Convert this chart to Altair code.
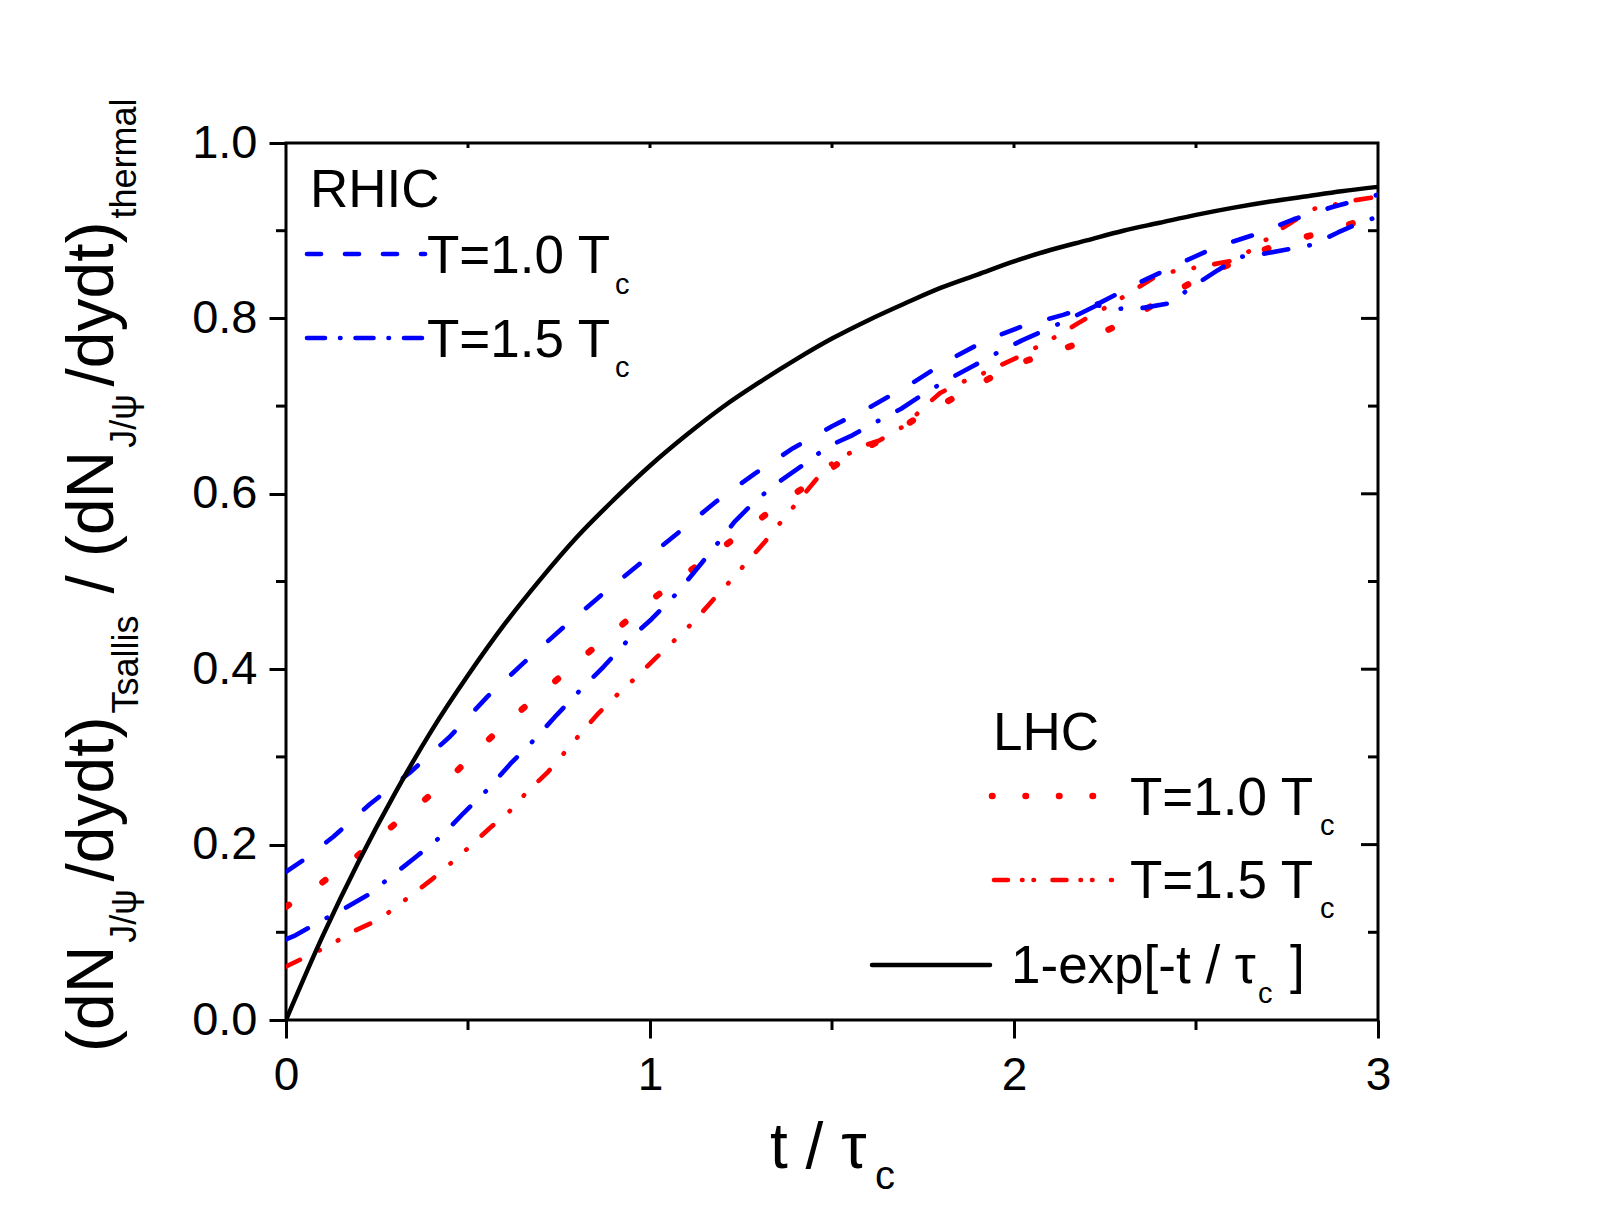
import altair as alt
import pandas as pd

# ---------------- data ----------------
t_exp = [0.0, 0.1, 0.2, 0.3, 0.4, 0.5, 0.6, 0.7, 0.8, 0.9, 1.0, 1.1, 1.2, 1.3, 1.4, 1.5,
         1.6, 1.7, 1.8, 1.9, 2.0, 2.1, 2.2, 2.3, 2.4, 2.5, 2.6, 2.7, 2.8, 2.9, 3.0]
v_exp = [0.0, 0.095, 0.181, 0.259, 0.330, 0.393, 0.451, 0.503, 0.551, 0.593, 0.632, 0.667,
         0.699, 0.727, 0.753, 0.777, 0.798, 0.817, 0.835, 0.850, 0.865, 0.878, 0.889, 0.900,
         0.909, 0.918, 0.926, 0.933, 0.939, 0.945, 0.950]

t_rhic10 = [0.0, 0.05, 0.13, 0.23, 0.34, 0.45, 0.554, 0.655, 0.76, 0.865, 0.971, 1.076, 1.181,
            1.288, 1.393, 1.50, 1.605, 1.712, 1.818, 1.923, 2.029, 2.135, 2.237, 2.345, 2.452,
            2.559, 2.665, 2.768, 2.875, 3.0]
v_rhic10 = [0.169, 0.183, 0.209, 0.246, 0.282, 0.323, 0.369, 0.408, 0.447, 0.484, 0.520, 0.555,
            0.591, 0.623, 0.652, 0.677, 0.699, 0.724, 0.752, 0.775, 0.792, 0.804, 0.818, 0.841,
            0.862, 0.882, 0.896, 0.913, 0.927, 0.941]

t_rhic15 = [0.0, 0.026, 0.094, 0.160, 0.227, 0.296, 0.36, 0.428, 0.488, 0.557, 0.616, 0.682,
            0.744, 0.808, 0.873, 0.937, 1.004, 1.07, 1.124, 1.179, 1.232, 1.292, 1.356, 1.424,
            1.489, 1.557, 1.622, 1.69, 1.756, 1.822, 1.889, 1.955, 2.022, 2.088, 2.155, 2.228,
            2.287, 2.355, 2.425, 2.49, 2.56, 2.62, 2.69, 2.757, 2.82, 2.89, 2.95, 3.0]
v_rhic15 = [0.092, 0.0965, 0.1125, 0.127, 0.143, 0.166, 0.187, 0.21, 0.236, 0.264, 0.292, 0.3195,
            0.348, 0.376, 0.403, 0.432, 0.457, 0.485, 0.512, 0.540, 0.568, 0.593, 0.614, 0.634,
            0.654, 0.667, 0.682, 0.697, 0.715, 0.731, 0.746, 0.761, 0.775, 0.787, 0.800, 0.815,
            0.811, 0.812, 0.817, 0.836, 0.855, 0.870, 0.874, 0.879, 0.884, 0.898, 0.909, 0.916]

t_lhc10 = [0.0, 0.1, 0.19, 0.28, 0.37, 0.46, 0.552, 0.642, 0.733, 0.822, 0.914, 1.004, 1.094,
           1.184, 1.276, 1.364, 1.459, 1.541, 1.64, 1.724, 1.82, 1.912, 2.0, 2.095, 2.182, 2.274,
           2.365, 2.457, 2.544, 2.64, 2.722, 2.819, 2.91, 3.0]
v_lhc10 = [0.129, 0.157, 0.185, 0.217, 0.247, 0.28, 0.318, 0.352, 0.384, 0.416, 0.4475, 0.479,
           0.5075, 0.534, 0.563, 0.591, 0.617, 0.642, 0.662, 0.684, 0.706, 0.727, 0.747, 0.76,
           0.772, 0.79, 0.811, 0.834, 0.853, 0.870, 0.884, 0.895, 0.906, 0.917]

t_lhc15 = [0.0, 0.08, 0.12, 0.18, 0.237, 0.28, 0.34, 0.40, 0.44, 0.50, 0.56, 0.61, 0.66, 0.72,
           0.755, 0.806, 0.859, 0.9, 0.96, 1.019, 1.06, 1.12, 1.173, 1.213, 1.266, 1.317, 1.35,
           1.40, 1.456, 1.482, 1.537, 1.596, 1.631, 1.701, 1.756, 1.797, 1.859, 1.919, 1.96,
           2.022, 2.079, 2.123, 2.182, 2.242, 2.283, 2.344, 2.402, 2.5, 2.603, 2.668, 2.722,
           2.764, 2.825, 2.883, 2.925, 2.98, 3.0]
v_lhc15 = [0.061, 0.077, 0.085, 0.10, 0.111, 0.122, 0.141, 0.16, 0.174, 0.196, 0.219, 0.236,
           0.259, 0.283, 0.30, 0.325, 0.35, 0.367, 0.39, 0.414, 0.43, 0.454, 0.479, 0.497, 0.522,
           0.546, 0.563, 0.588, 0.616, 0.63, 0.644, 0.656, 0.661, 0.678, 0.70, 0.715, 0.7275,
           0.738, 0.746, 0.758, 0.771, 0.781, 0.796, 0.81, 0.82, 0.836, 0.851, 0.858, 0.866,
           0.882, 0.899, 0.910, 0.925, 0.930, 0.934, 0.9375, 0.94]

x_major = [0, 1, 2, 3]
x_minor = [0.5, 1.5, 2.5]
y_major = [0.0, 0.2, 0.4, 0.6, 0.8, 1.0]
y_minor = [0.1, 0.3, 0.5, 0.7, 0.9]

# ---------------- layout ----------------
W, H = 1092, 877
FONT = "Liberation Sans"
BLUE, RED = "#0000FF", "#FF0000"

x_scale = alt.Scale(domain=[0, 3], nice=False, zero=False)
y_scale = alt.Scale(domain=[0, 1], nice=False, zero=False)
x_axis = alt.Axis(values=x_major, format="d", title=None, grid=False, domain=False,
                  tickSize=18, tickWidth=3, tickColor="black", labelFont=FONT,
                  labelFontSize=46, labelColor="black", labelPadding=15,
                  labelFlush=False, labelOverlap=False, labelBound=False)
y_axis = alt.Axis(values=y_major, format=".1f", title=None, grid=False, domain=False,
                  tickSize=17, tickWidth=3, tickColor="black", labelFont=FONT,
                  labelFontSize=47, labelColor="black", labelPadding=12,
                  labelFlush=False, labelOverlap=False, labelBound=False)


def X():
    return alt.X("t:Q", scale=x_scale, axis=x_axis)


def Y():
    return alt.Y("v:Q", scale=y_scale, axis=y_axis)


def curve(t, v, color, dash, width, interp="linear"):
    df = pd.DataFrame({"t": t, "v": v})
    kw = dict(color=color, strokeWidth=width, strokeCap="round", strokeJoin="round",
              clip=True, interpolate=interp)
    if dash:
        kw["strokeDash"] = dash
    return alt.Chart(df).mark_line(**kw).encode(x=X(), y=Y())


dummy = pd.DataFrame({"a": [0]})


def text(s, x, y, size, angle=0):
    return alt.Chart(dummy).mark_text(
        text=s, font=FONT, fontSize=size, align="left", baseline="alphabetic",
        angle=angle, color="black"
    ).encode(x=alt.value(x), y=alt.value(y))


def sample(x1, x2, y, color, dash, width):
    kw = dict(color=color, strokeWidth=width, strokeCap="round")
    if dash:
        kw["strokeDash"] = dash
    return alt.Chart(dummy).mark_rule(**kw).encode(
        x=alt.value(x1), x2=alt.value(x2), y=alt.value(y))


layers = []

# minor / mirrored ticks
layers.append(alt.Chart(pd.DataFrame({"t": x_minor})).mark_rule(color="black", strokeWidth=3)
              .encode(x=X(), y=alt.value(H), y2=alt.value(H + 10)))
layers.append(alt.Chart(pd.DataFrame({"t": x_minor + x_major[1:3]})).mark_rule(color="black", strokeWidth=3)
              .encode(x=X(), y=alt.value(0), y2=alt.value(5)))
layers.append(alt.Chart(pd.DataFrame({"v": y_minor})).mark_rule(color="black", strokeWidth=3)
              .encode(y=Y(), x=alt.value(-10), x2=alt.value(0)))
layers.append(alt.Chart(pd.DataFrame({"v": y_major[1:5]})).mark_rule(color="black", strokeWidth=3)
              .encode(y=Y(), x=alt.value(W - 17), x2=alt.value(W)))
layers.append(alt.Chart(pd.DataFrame({"v": y_minor})).mark_rule(color="black", strokeWidth=3)
              .encode(y=Y(), x=alt.value(W - 10), x2=alt.value(W)))

# curves
layers.append(curve(t_lhc15, v_lhc15, RED, [15.5, 21.5, 0.5, 20.5, 0.5, 20.5], 4.6))
layers.append(curve(t_lhc10, v_lhc10, RED, [3.5, 40.5], 6.5))
layers.append(curve(t_rhic15, v_rhic15, BLUE, [24.5, 21.5, 0.5, 21.5], 4.6))
layers.append(curve(t_rhic10, v_rhic10, BLUE, [19.5, 30.5], 4.6))
layers.append(curve(t_exp, v_exp, "black", None, 4.5, "monotone"))

# legends (positions relative to the plot area)
layers.append(text("RHIC", 24, 64, 53))
layers.append(sample(21, 139, 111, BLUE, [14, 24], 4.6))
layers.append(text("T=1.0 T", 141, 130, 53))
layers.append(text("c", 329, 151, 29))
layers.append(sample(21, 139, 195, BLUE, [18, 15, 0.5, 15], 4.6))
layers.append(text("T=1.5 T", 141, 214, 53))
layers.append(text("c", 329, 234, 29))

layers.append(text("LHC", 707, 607, 53))
layers.append(sample(706, 812, 653, RED, [0.5, 33], 6.5))
layers.append(text("T=1.0 T", 844, 672, 53))
layers.append(text("c", 1034, 692, 29))
layers.append(sample(708, 826, 737, RED, [14, 14, 0.5, 11, 0.5, 18.5], 4.6))
layers.append(text("T=1.5 T", 844, 755, 53))
layers.append(text("c", 1034, 775, 29))
layers.append(sample(586, 704, 822, "black", None, 4.5))
layers.append(text("1-exp[-t / τ", 725, 840, 53))
layers.append(text("c", 972, 860, 29))
layers.append(text("]", 1004, 840, 53))

# x-axis title
layers.append(text("t / τ", 484, 1025, 64))
layers.append(text("c", 589, 1046, 40))

# y-axis title, rotated, built piece by piece (main text + subscripts)
ADV = {'(': 333, ')': 333, 'd': 556, 'N': 722, '/': 278, 'y': 500, 't': 278, ' ': 278,
       'J': 500, 'ψ': 700, 'T': 611, 's': 500, 'a': 556, 'l': 222, 'i': 222, 'h': 556,
       'e': 556, 'r': 333, 'm': 833}
FM, FS = 66, 36
XM, XS = -173, -150
pieces = [("(dN", FM, XM, 0), ("J/ψ", FS, XS, 3), ("/dydt)", FM, XM, 8),
          ("Tsallis", FS, XS + 2, 3), ("/", FM, XM, 18), ("(dN", FM, XM, 18),
          ("J/ψ", FS, XS, 3), ("/dydt)", FM, XM, 8), ("thermal", FS, XS, 3)]
ypos = 909
for s, size, xb, gap in pieces:
    ypos -= gap
    layers.append(text(s, xb, ypos, size, angle=270))
    ypos -= sum(ADV.get(c, 556) for c in s) * size / 1000.0

chart = alt.layer(*layers).properties(
    width=W, height=H,
    autosize=alt.AutoSizeParams(type="none"),
    padding={"left": 286, "top": 143, "right": 222, "bottom": 205},
    background="white",
).configure_view(stroke="black", strokeWidth=3)

chart.save("out.html", embed_options={"renderer": "svg", "actions": False})
